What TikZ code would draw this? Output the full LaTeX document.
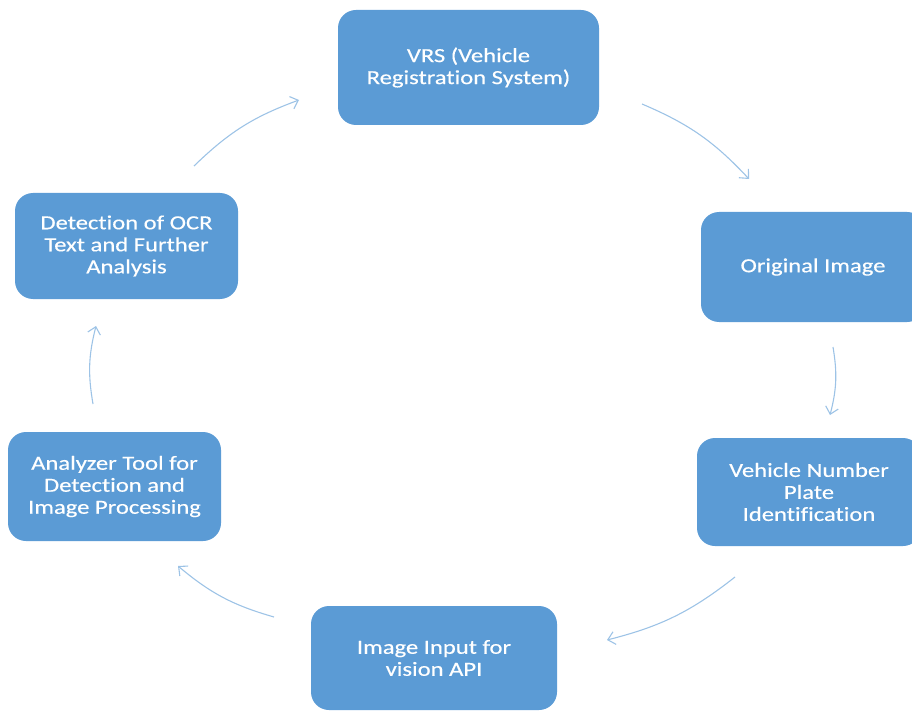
\documentclass[tikz,border=0pt]{standalone}
\usepackage{fontspec}
\setmainfont{Carlito}
\newfontfamily\boxfont[FakeStretch=1.23,FakeBold=0.4,RawFeature={-liga;-clig;-calt;-dlig}]{Carlito}
\usetikzlibrary{arrows.meta}
\definecolor{boxblue}{HTML}{5B9BD5}
\definecolor{arrowblue}{HTML}{9DC3E6}

\begin{document}
\begin{tikzpicture}[x=1pt,y=-1pt,
        box/.style = {fill=boxblue, rounded corners=18pt, text=white,
            align=center, inner sep=0pt, font=\boxfont\fontsize{20}{22}\selectfont},
        arrow/.style = {arrowblue, line width=1.1pt, bend left=12,
            -{Straight Barb[length=7pt,width=13pt]}}]
    \useasboundingbox (0,0) rectangle (912,711);

    \node[box, minimum width=261pt, minimum height=115pt]
        (vrs) at (468.5,67.5) {VRS (Vehicle\\Registration System)};
    \node[box, minimum width=224pt, minimum height=110pt]
        (orig) at (813,267) {Original Image};
    \node[box, minimum width=224pt, minimum height=108pt]
        (plate) at (809,492) {Vehicle Number\\Plate\\Identification};
    \node[box, minimum width=246pt, minimum height=104pt]
        (input) at (434,658) {Image Input for\\vision API};
    \node[box, minimum width=213pt, minimum height=109pt]
        (analyzer) at (114.5,486.5) {Analyzer Tool for\\Detection and\\Image Processing};
    \node[box, minimum width=223pt, minimum height=106pt]
        (ocr) at (126.5,246) {Detection of OCR\\Text and Further\\Analysis};

    % arrow ends
    \coordinate (vrs out) at (642,104);
    \coordinate (orig in) at (749,179);
    \coordinate (orig out) at (833,347);
    \coordinate (plate in) at (830,415);
    \coordinate (plate out) at (735,577);
    \coordinate (input in) at (607,640);
    \coordinate (input out) at (274,617);
    \coordinate (analyzer in) at (178,566);
    \coordinate (analyzer out) at (93,404);
    \coordinate (ocr in) at (96,326);
    \coordinate (ocr out) at (194,166);
    \coordinate (vrs in) at (299,100);

    \draw[arrow] (vrs out) to (orig in);
    \draw[arrow] (orig out) to (plate in);
    \draw[arrow] (plate out) to (input in);
    \draw[arrow] (input out) to (analyzer in);
    \draw[arrow] (analyzer out) to (ocr in);
    \draw[arrow] (ocr out) to (vrs in);
\end{tikzpicture}
\end{document}
